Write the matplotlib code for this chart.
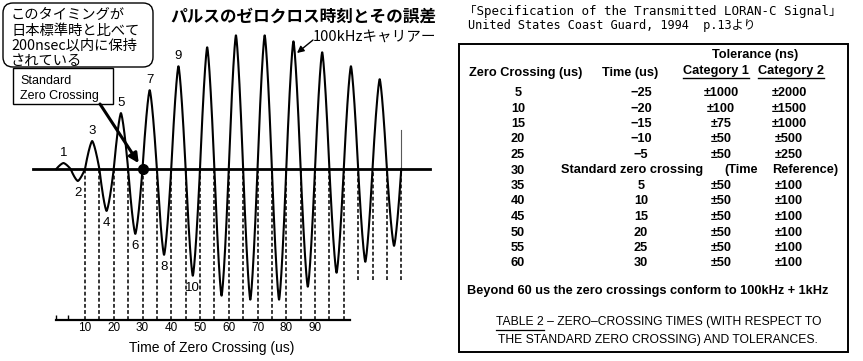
import numpy as np
import matplotlib
matplotlib.use("Agg")
import matplotlib.pyplot as plt
from matplotlib.patches import FancyBboxPatch, Rectangle

# ---- pulse drawing (left) ----
# signed peak of every half cycle (arbitrary units)
half_cycle_peaks = [6, -12, 28, -42, 56, -65, 79, -86, 103, -107, 122, -127,
                    134, -131, 134, -131, 128, -118, 117, -104, 103, -93, 90, -77]
half_period = 5          # us
lobe_labels = ["1", "2", "3", "4", "5", "6", "7", "8", "9", "10"]
tick_values = [10, 20, 30, 40, 50, 60, 70, 80, 90]
minor_ticks = [0, 4]
long_guides = [10, 15, 20, 25, 30, 35, 40, 45, 50, 55, 60, 65, 70, 75, 80, 85, 90, 95, 100]
short_guides = [105, 110, 115, 120]
tail_height = 39         # cut-off start of the next half cycle
std_crossing = 30        # us

callout_lines = ["このタイミングが", "日本標準時と比べて", "200nsec以内に保持", "されている"]
title_jp = "パルスのゼロクロス時刻とその誤差"
carrier_jp = "100kHzキャリアー"

# ---- table (right) ----
zero_crossing = [5, 10, 15, 20, 25, 30, 35, 40, 45, 50, 55, 60]
time_us = [-25, -20, -15, -10, -5, None, 5, 10, 15, 20, 25, 30]
tol_cat1 = [1000, 100, 75, 50, 50, None, 50, 50, 50, 50, 50, 50]
tol_cat2 = [2000, 1500, 1000, 500, 250, None, 100, 100, 100, 100, 100, 100]
source_lines = ["「Specification of the Transmitted LORAN-C Signal」",
                "United States Coast Guard, 1994  p.13より"]
beyond_note = "Beyond 60 us the zero crossings conform to 100kHz + 1kHz"
caption = ["TABLE 2 \u2013 ZERO\u2013CROSSING TIMES (WITH RESPECT TO",
           "THE STANDARD ZERO CROSSING) AND TOLERANCES."]

W, H = 863, 361
fig = plt.figure(figsize=(W / 100, H / 100), dpi=100)
fig.patch.set_facecolor("white")

# pixel-space layer for boxes and the table
bg = fig.add_axes([0, 0, 1, 1])
bg.set_xlim(0, W)
bg.set_ylim(H, 0)
bg.axis("off")

# waveform axes: time in us, amplitude in drawing units
x0_px, px_per_us, zero_px = 56.25, 2.875, 169
ax = fig.add_axes([0, 0, 460 / W, 1])
ax.set_xlim((0 - x0_px) / px_per_us, (460 - x0_px) / px_per_us)
ax.set_ylim(zero_px - H, zero_px)
ax.axis("off")
ax.patch.set_alpha(0)

JP = ["Noto Sans CJK JP", "DejaVu Sans"]
LAT = ["Liberation Sans", "DejaVu Sans"]

# waveform: pointed lobes with rounded tips, as drawn
ts, ys = [], []
for k, pk in enumerate(half_cycle_peaks):
    u = np.linspace(0, 1, 60)
    ts.append(k * half_period + u * half_period)
    ys.append(pk * (1 - np.abs(2 * u - 1) ** 1.4))
ax.plot(np.concatenate(ts), np.concatenate(ys), color="black", lw=1.5, zorder=3)
end_t = len(half_cycle_peaks) * half_period
ax.plot([end_t, end_t], [0, tail_height], color="0.35", lw=0.8)

# zero line and the standard zero crossing
ax.plot([-8.1, 130], [0, 0], color="black", lw=2.0, zorder=2)
ax.plot(std_crossing, 0, "o", color="black", ms=7, zorder=5)

# dashed guides from each crossing down
axis_y = zero_px - 320
ax.vlines(long_guides, axis_y, 0, colors="black", lw=1.1, linestyles=(0, (2.5, 1.5)))
ax.vlines(short_guides, zero_px - 280, 0, colors="black", lw=1.1, linestyles=(0, (2.5, 1.5)))

# time axis
ax.plot([0, 102], [axis_y, axis_y], color="black", lw=1.6)
ax.vlines(minor_ticks, axis_y, axis_y + 5, colors="black", lw=1)
for v in tick_values:
    ax.annotate(str(v), (v, axis_y), xytext=(0, -8), textcoords="offset pixels",
                ha="center", va="center", fontsize=8.5, family=LAT)
ax.text(54, zero_px - 348, "Time of Zero Crossing (us)", ha="center", va="center",
        fontsize=10, family=LAT)

# half cycle numbers
for k, lab in enumerate(lobe_labels):
    pk = half_cycle_peaks[k]
    ax.annotate(lab, ((k + 0.5) * half_period, pk), xytext=(0, 10 if pk > 0 else -12),
                textcoords="offset pixels", ha="center", va="center",
                fontsize=9.5, family=LAT)

# callout box (Japanese)
bg.add_patch(FancyBboxPatch((3, 3), 150, 64, boxstyle="round,pad=0,rounding_size=10",
                            fc="white", ec="black", lw=1.0))
for i, line in enumerate(callout_lines):
    bg.text(11, 15 + i * 15.5, line, ha="left", va="center", fontsize=10.3, family=JP)

# "Standard Zero Crossing" box and arrow
bg.add_patch(Rectangle((13, 68), 100, 36, fc="white", ec="black", lw=1.0))
bg.text(20, 81, "Standard", ha="left", va="center", fontsize=9, family=LAT)
bg.text(20, 96, "Zero Crossing", ha="left", va="center", fontsize=9, family=LAT)
ax.annotate("", xy=(std_crossing, 0), xytext=(100, 104), textcoords=bg.transData,
            arrowprops=dict(arrowstyle="-|>", lw=2.2, color="black",
                            mutation_scale=14, shrinkA=0, shrinkB=5))

# Japanese title and carrier label
bg.text(303, 17, title_jp, ha="center", va="center", fontsize=12, fontweight="bold", family=JP)
bg.text(313, 37, carrier_jp, ha="left", va="center", fontsize=10.5, family=JP)
bg.annotate("", xy=(297, 53), xytext=(313, 40),
            arrowprops=dict(arrowstyle="-|>", lw=1.0, color="black",
                            mutation_scale=10, shrinkA=0, shrinkB=0))

# ---- right panel ----
MONO = ["DejaVu Sans Mono", "Noto Sans CJK JP"]
bg.text(464, 12, source_lines[0], ha="left", va="center", fontsize=9.0, family=MONO)
bg.text(468, 25, source_lines[1], ha="left", va="center", fontsize=8.6, family=MONO)

bg.add_patch(Rectangle((459, 44), 848 - 459, 352 - 44, fc="none", ec="black", lw=1.4))

tf = dict(fontsize=9.2, fontweight="bold", family=LAT, va="center")
r = fig.canvas.get_renderer()
bg.text(755, 55, "Tolerance (ns)", ha="center", **tf)
bg.text(526, 73, "Zero Crossing (us)", ha="center", **tf)
bg.text(630, 73, "Time (us)", ha="center", **tf)
for cx, lab in [(716, "Category 1"), (791, "Category 2")]:
    t = bg.text(cx, 71, lab, ha="center", **tf)
    bb = t.get_window_extent(r)
    bg.plot([bb.x0, bb.x1], [78, 78], color="black", lw=1.0)

row_y0, row_dy = 93, 15.5
for i, zc in enumerate(zero_crossing):
    y = row_y0 + i * row_dy
    bg.text(518, y, str(zc), ha="center", **tf)
    if time_us[i] is None:
        bg.text(632, y, "Standard zero crossing", ha="center", **tf)
        bg.text(741, y, "(Time", ha="center", **tf)
        bg.text(805, y, "Reference)", ha="center", **tf)
    else:
        bg.text(641, y, str(time_us[i]).replace("-", "\u2212"), ha="center", **tf)
        bg.text(721, y, "\u00b1" + str(tol_cat1[i]), ha="center", **tf)
        bg.text(789, y, "\u00b1" + str(tol_cat2[i]), ha="center", **tf)

bg.text(648, 291, beyond_note, ha="center", **tf)
cf = dict(tf, fontsize=8.7, fontweight="normal")
cap1 = bg.text(659, 322, caption[0], ha="center", **cf)
bg.text(658, 340, caption[1], ha="center", **cf)
bb = cap1.get_window_extent(r)
tmp = bg.text(0, 0, "TABLE 2", **cf)
w = tmp.get_window_extent(r).width
tmp.remove()
bg.plot([bb.x0, bb.x0 + w], [329.5, 329.5], color="black", lw=0.9)

fig.savefig("out.png", dpi=100)
